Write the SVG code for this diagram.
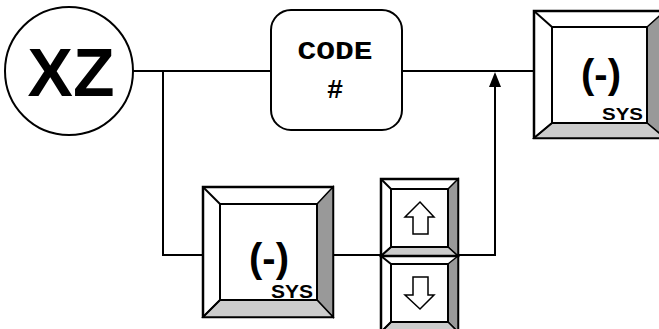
<svg xmlns="http://www.w3.org/2000/svg" width="659" height="329" viewBox="0 0 659 329">
<style>
.ln{stroke:#000;stroke-width:2;fill:none}
.out{fill:#fff;stroke:#000;stroke-width:2.5}
.in{fill:#fff;stroke:#000;stroke-width:2}
.dk{fill:#999;stroke:#000;stroke-width:1.5}
.lt{fill:#ccc;stroke:#000;stroke-width:1.5}
.wt{fill:#fff;stroke:#000;stroke-width:1.5}
.big{font-family:"Liberation Sans",Arial,sans-serif;font-weight:bold;fill:#000}
.mono{font-family:"Liberation Mono","Courier New",monospace;font-weight:bold;fill:#000;text-anchor:middle}
</style>
<rect width="659" height="329" fill="#fff"/>
<g id="connectors">
<line class="ln" x1="133" y1="71" x2="271" y2="71"/>
<line class="ln" x1="402" y1="71" x2="534" y2="71"/>
<polyline class="ln" points="163,71 163,255 203,255"/>
<line class="ln" x1="333" y1="255" x2="381" y2="255"/>
<polyline class="ln" points="458,255 495,255 495,84"/>
<polygon points="495,72 489,87 501,87" fill="#000"/>
</g>
<g id="xz">
<circle cx="69" cy="71" r="64" fill="#fff" stroke="#000" stroke-width="2"/>
<text class="big" x="71" y="96" font-size="68" text-anchor="middle">XZ</text>
</g>
<g id="code">
<rect x="271" y="10" width="131" height="120" rx="20" fill="#fff" stroke="#000" stroke-width="2"/>
<text class="mono" x="335" y="59" font-size="26" textLength="75" lengthAdjust="spacingAndGlyphs">CODE</text>
<text class="mono" x="335" y="98" font-size="27">#</text>
</g>
<g id="key-sys-right">
<rect class="out" x="534" y="11" width="131" height="127"/>
<polygon class="dk" points="647,27 665,11 665,138 647,123"/>
<polygon class="lt" points="552,123 647,123 665,138 534,138"/>
<line class="ln" x1="534" y1="11" x2="552" y2="27"/>
<line class="ln" x1="534" y1="138" x2="552" y2="123"/>
<rect class="in" x="552" y="27" width="95" height="96"/>
<text class="big" x="601" y="88" font-size="40" text-anchor="middle">(-)</text>
<text class="big" x="602" y="120" font-size="17" textLength="41" lengthAdjust="spacingAndGlyphs">SYS</text>
</g>
<g id="key-sys-bottom">
<rect class="out" x="203" y="187" width="130" height="130"/>
<polygon class="dk" points="317,204 333,187 333,317 317,300"/>
<polygon class="lt" points="220,300 317,300 333,317 203,317"/>
<line class="ln" x1="203" y1="187" x2="220" y2="204"/>
<line class="ln" x1="203" y1="317" x2="220" y2="300"/>
<rect class="in" x="220" y="204" width="97" height="96"/>
<text class="big" x="269" y="272" font-size="40" text-anchor="middle">(-)</text>
<text class="big" x="271" y="298" font-size="18" textLength="42" lengthAdjust="spacingAndGlyphs">SYS</text>
</g>
<g id="key-up">
<rect class="out" x="381" y="179" width="77" height="77"/>
<polygon class="dk" points="448,189 458,179 458,256 448,247"/>
<polygon class="lt" points="391,247 448,247 458,256 381,256"/>
<line class="ln" x1="381" y1="179" x2="391" y2="189"/>
<line class="ln" x1="381" y1="256" x2="391" y2="247"/>
<rect class="in" x="391" y="189" width="57" height="58"/>
<polygon class="wt" points="420,202 434,217 428,217 428,234 413,234 413,217 405,217"/>
</g>
<g id="key-down">
<rect class="out" x="381" y="256" width="77" height="76"/>
<polygon class="dk" points="448,264 458,256 458,332 448,322"/>
<polygon class="lt" points="391,322 448,322 458,332 381,332"/>
<line class="ln" x1="381" y1="256" x2="391" y2="264"/>
<line class="ln" x1="381" y1="332" x2="391" y2="322"/>
<rect class="in" x="391" y="264" width="57" height="58"/>
<polygon class="wt" points="413,277 428,277 428,295 434,295 420,309 405,295 413,295"/>
</g>
</svg>
